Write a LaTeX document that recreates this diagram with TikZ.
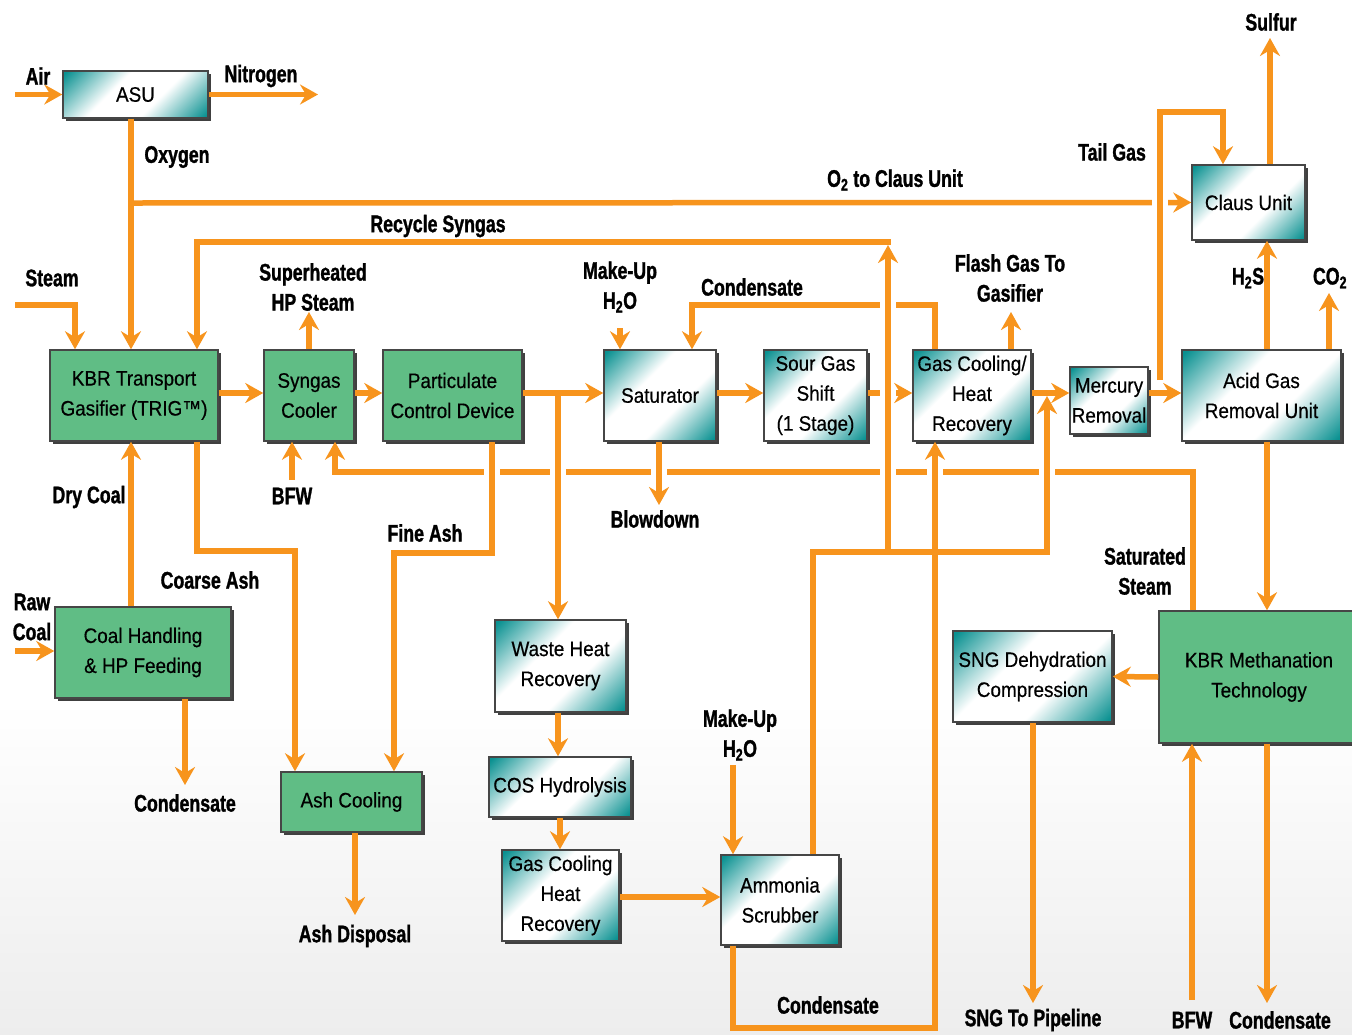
\documentclass[tikz,border=0pt]{standalone}
\usepackage{fontspec}
\setmainfont{Liberation Sans}
\newfontfamily\boxf[FakeStretch=0.9,FakeBold=0.5]{Liberation Sans}
\newfontfamily\lblf[FakeStretch=0.74,FakeBold=1.2]{Liberation Sans Bold}
\usetikzlibrary{arrows.meta,shadows}
\definecolor{org}{RGB}{247,148,29}
\definecolor{tealc}{RGB}{10,145,145}
\definecolor{grn}{RGB}{96,189,133}
\definecolor{bord}{RGB}{70,70,70}
\pgfdeclarehorizontalshading{tealsh}{100bp}{color(0bp)=(tealc); color(16bp)=(tealc); color(40bp)=(white); color(60bp)=(white); color(84bp)=(tealc); color(100bp)=(tealc)}
\newcommand\xgap[2]{\fill[white] (#1-8,#2-4.5) rectangle (#1+8,#2+4.5); \draw[pipe] (#1,#2-6) -- (#1,#2+6);}
\tikzset{
  box/.style={draw=bord, line width=1.5pt, inner sep=2pt, align=center,
    font=\boxf\fontsize{21}{30}\selectfont,
    drop shadow={shadow xshift=2.5pt, shadow yshift=-2.5pt, fill=black!75, opacity=1}},
  gbox/.style={box, fill=grn},
  tbox/.style={box, shading=tealsh, shading angle=-45},
  lbl/.style={font=\lblf\fontsize{24}{30}\selectfont, align=center, inner sep=0pt},
  pipe/.style={draw=org, line width=5.5pt},
  flow/.style={pipe, -{Stealth[length=18pt,width=20pt,inset=6pt]}}
}
\begin{document}
\begin{tikzpicture}[x=1pt,y=-1pt]
\useasboundingbox (0,0) rectangle (1352,1034);
\fill[white] (0,0) rectangle (1352,1034);
\shade[top color=white,bottom color=black!7] (0,700) rectangle (1352,1034);

% boxes
\node[tbox, minimum width=145, minimum height=47] (asu) at (135.5,94.5) {ASU};
\node[gbox, minimum width=168, minimum height=91] (kbr) at (134,395.5) {KBR Transport\\Gasifier (TRIG™)};
\node[gbox, minimum width=90, minimum height=91] (sc) at (309,395.5) {Syngas\\Cooler};
\node[gbox, minimum width=139, minimum height=91] (pcd) at (452.5,395.5) {Particulate\\Control Device};
\node[tbox, minimum width=112, minimum height=91] (sat) at (660,395.5) {Saturator};
\node[tbox, minimum width=103, minimum height=91] (sgs) at (815.5,395.5) {Sour Gas\\Shift\\(1 Stage)};
\node[tbox, minimum width=118, minimum height=91] (gchr) at (972,395.5) {Gas Cooling/\\Heat\\Recovery};
\node[tbox, minimum width=78, minimum height=67, inner sep=0pt] (hg) at (1109,400.5) {Mercury\\Removal};
\node[tbox, minimum width=159, minimum height=91] (agr) at (1261.5,395.5) {Acid Gas\\Removal Unit};
\node[tbox, minimum width=113, minimum height=75] (claus) at (1248.5,202.5) {Claus Unit};
\node[gbox, minimum width=176, minimum height=91] (chp) at (143,652.5) {Coal Handling\\\& HP Feeding};
\node[gbox, minimum width=141, minimum height=60] (ash) at (351.5,802) {Ash Cooling};
\node[tbox, minimum width=131, minimum height=92] (whr) at (560.5,666) {Waste Heat\\Recovery};
\node[tbox, minimum width=142, minimum height=60, inner sep=0pt] (cos) at (560,787) {COS Hydrolysis};
\node[tbox, minimum width=117, minimum height=91, inner sep=0pt] (gc2) at (560.5,895.5) {Gas Cooling\\Heat\\Recovery};
\node[tbox, minimum width=118, minimum height=90] (nh3) at (780,900) {Ammonia\\Scrubber};
\node[tbox, minimum width=159, minimum height=91, inner sep=0pt] (sng) at (1032.5,676.5) {SNG Dehydration\\Compression};
\node[gbox, minimum width=200, minimum height=132] (meth) at (1259,677) {KBR Methanation\\Technology};

% free ends
\coordinate (airin) at (15,94.5);
\coordinate (n2out) at (318,94.5);
\coordinate (sulf) at (1270,38);
\coordinate (co2) at (1329,293);
\coordinate (steamin) at (15,305);
\coordinate (shp) at (309,312);
\coordinate (bfw1) at (292,480);
\coordinate (rawin) at (15,651);
\coordinate (cond1) at (185,785);
\coordinate (ashd) at (355,915);
\coordinate (mu1) at (620,328);
\coordinate (mu2) at (733,765);
\coordinate (blow) at (659,505);
\coordinate (flash) at (1011,312);
\coordinate (pipeout) at (1033,1003);
\coordinate (bfw2) at (1192,1000);
\coordinate (cond3) at (1267,1003);

% connectors
\draw[flow] (airin) -- (asu.west);
\draw[flow] (asu.east) -- (n2out);
\draw[flow] (asu.south -| 131,0) -- (kbr.north -| 131,0);
\draw[flow] (131,203) -- (claus.west);
\draw[flow] (1160,380) -- (1160,112) -- (1223,112) -- (claus.north -| 1223,0);
\draw[flow] (claus.north -| 1270,0) -- (sulf);
\draw[flow] (agr.north -| 1267,0) -- (claus.south -| 1267,0);
\draw[flow] (agr.north -| 1329,0) -- (co2);
\draw[flow] (agr.south -| 1267,0) -- (meth.north -| 1267,0);
\draw[flow] (meth.west) -- (sng.east);
\draw[flow] (sng.south -| 1033,0) -- (pipeout);
\draw[flow] (bfw2) -- (meth.south -| 1192,0);
\draw[flow] (meth.south -| 1267,0) -- (cond3);

\draw[flow] (steamin) -- (75,305) -- (kbr.north -| 75,0);
\draw[flow] (888,552) -- (888,245);
\draw[flow] (890.75,242) -- (197,242) -- (kbr.north -| 197,0);

\draw[flow] (kbr.east |- 0,393) -- (sc.west |- 0,393);
\draw[flow] (sc.east |- 0,393) -- (pcd.west |- 0,393);
\draw[flow] (pcd.east |- 0,393) -- (sat.west |- 0,393);
\draw[flow] (sat.east |- 0,393) -- (sgs.west |- 0,393);
\draw[flow] (sgs.east |- 0,393) -- (gchr.west |- 0,393);
\draw[flow] (gchr.east |- 0,393) -- (hg.west |- 0,393);
\draw[flow] (hg.east |- 0,393) -- (agr.west |- 0,393);

\draw[flow] (sc.north -| 309,0) -- (shp);
\draw[flow] (bfw1) -- (sc.south -| 292,0);
\draw[flow] (meth.north -| 1193,0) -- (1193,472) -- (335,472) -- (sc.south -| 335,0);
\draw[flow] (kbr.south -| 197,0) -- (197,551) -- (295,551) -- (ash.north -| 295,0);
\draw[flow] (chp.north -| 131,0) -- (kbr.south -| 131,0);
\draw[flow] (rawin) -- (chp.west |- 0,651);
\draw[flow] (chp.south -| 185,0) -- (cond1);
\draw[flow] (pcd.south -| 492,0) -- (492,553) -- (394,553) -- (ash.north -| 394,0);
\draw[flow] (ash.south -| 355,0) -- (ashd);
\draw[flow] (558,393) -- (whr.north -| 558,0);
\draw[flow] (whr.south -| 558,0) -- (cos.north -| 558,0);
\draw[flow] (cos.south -| 560,0) -- (gc2.north -| 560,0);
\draw[flow] (gc2.east |- 0,897) -- (nh3.west |- 0,897);
\draw[flow] (mu1) -- (sat.north -| 620,0);
\draw[flow] (mu2) -- (nh3.north -| 733,0);
\draw[flow] (gchr.north -| 935,0) -- (935,305) -- (692,305) -- (sat.north -| 692,0);
\draw[flow] (sat.south -| 659,0) -- (blow);
\draw[flow] (gchr.north -| 1011,0) -- (flash);
\draw[flow] (nh3.north -| 813,0) -- (813,552) -- (1047,552) -- (1047,396);
\draw[flow] (nh3.south -| 733,0) -- (733,1028) -- (935,1028) -- (gchr.south -| 935,0);

% crossings
\xgap{492}{472} \xgap{558}{472} \xgap{659}{472} \xgap{888}{472} \xgap{935}{472} \xgap{1047}{472}
\xgap{888}{305} \xgap{888}{393} \xgap{1160}{203}

% labels
\node[lbl] (lair) at (38,76) {Air};
\node[lbl] (ln2) at (261,76) {Nitrogen};
\node[lbl] (lox) at (177,157) {Oxygen};
\node[lbl] (lo2) at (895,180) {O\textsubscript{2} to Claus Unit};
\node[lbl] (ltail) at (1112,152) {Tail Gas};
\node[lbl] (lsul) at (1271,22) {Sulfur};
\node[lbl] (lrec) at (438,226) {Recycle Syngas};
\node[lbl] (lsteam) at (52,278) {Steam};
\node[lbl] (lshp) at (313,287) {Superheated\\HP Steam};
\node[lbl] (lmu1) at (620,287) {Make-Up\\H\textsubscript{2}O};
\node[lbl] (lcond2) at (752,287) {Condensate};
\node[lbl] (lflash) at (1010,278) {Flash Gas To\\Gasifier};
\node[lbl] (lh2s) at (1248,278) {H\textsubscript{2}S};
\node[lbl] (lco2) at (1330,278) {CO\textsubscript{2}};
\node[lbl] (ldry) at (89,497) {Dry Coal};
\node[lbl] (lbfw1) at (292,496) {BFW};
\node[lbl] (lfine) at (425,533) {Fine Ash};
\node[lbl] (lblow) at (655,519) {Blowdown};
\node[lbl] (lsat) at (1145,571) {Saturated\\Steam};
\node[lbl] (lcoarse) at (210,580) {Coarse Ash};
\node[lbl] (lraw) at (32,617) {Raw\\Coal};
\node[lbl] (lmu2) at (740,735) {Make-Up\\H\textsubscript{2}O};
\node[lbl] (lcond1) at (185,803) {Condensate};
\node[lbl] (lashd) at (355,936) {Ash Disposal};
\node[lbl] (lcond4) at (828,1005) {Condensate};
\node[lbl] (lpipe) at (1033,1020) {SNG To Pipeline};
\node[lbl] (lbfw2) at (1192,1020) {BFW};
\node[lbl] (lcond3) at (1280,1020) {Condensate};
\end{tikzpicture}
\end{document}
